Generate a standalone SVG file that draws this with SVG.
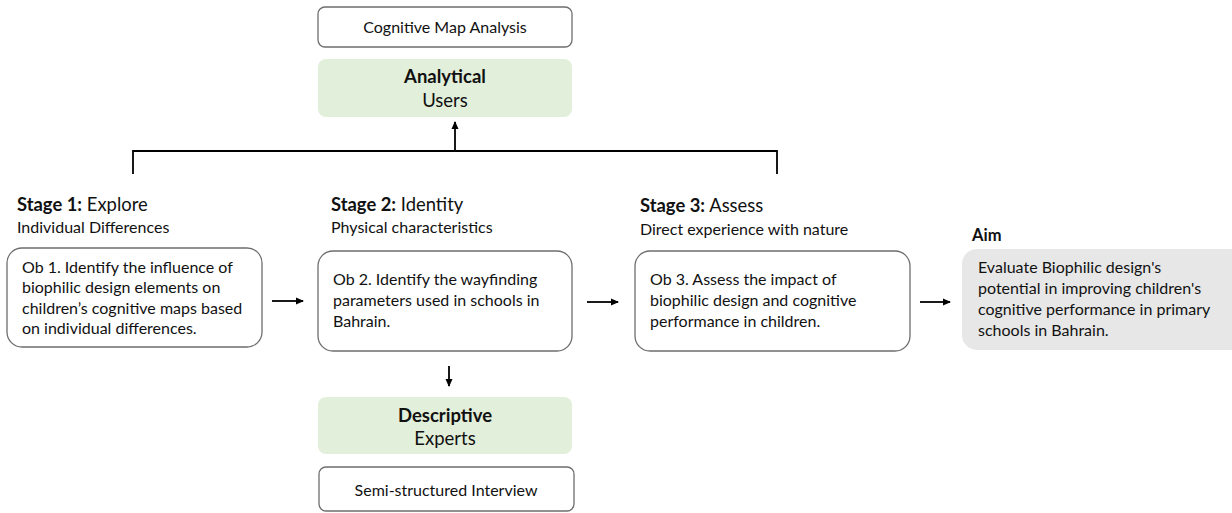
<svg xmlns="http://www.w3.org/2000/svg" width="1232" height="513" viewBox="0 0 1232 513">
<defs>
<marker id="ah" markerWidth="8" markerHeight="8" refX="7" refY="4" orient="auto" markerUnits="userSpaceOnUse">
<path d="M0,0.5 L8,4 L0,7.5 Z" fill="#000"/>
</marker>
<style>
text{font-family:Lato,"Open Sans","Liberation Sans",sans-serif;fill:#111}
.wb{fill:#fff;stroke:#6e6e6e;stroke-width:1.3}
.gb{fill:#e2efda;stroke:none}
.ab{fill:#e7e7e7;stroke:none}
.t{font-size:16px}
.h{font-size:18.4px}
.s{font-size:18.5px}
.c{font-size:16px}
.cn{stroke:#000;stroke-width:1.8;fill:none}
</style>
</defs>
<g id="cognitive-map"><rect class="wb" x="318" y="7" width="254" height="40" rx="7"/><text class="c" x="445" y="33" text-anchor="middle">Cognitive Map Analysis</text></g>
<g id="analytical"><rect class="gb" x="318" y="59" width="254" height="58" rx="8"/><text class="s" x="445" y="83" text-anchor="middle" font-weight="bold">Analytical</text><text class="s" x="445" y="107" text-anchor="middle">Users</text></g>
<g id="stage1"><text class="h" x="17" y="211"><tspan font-weight="bold">Stage 1:</tspan> Explore</text><text class="t" x="17" y="233">Individual Differences</text>
<rect class="wb" x="7" y="248" width="255" height="99" rx="15"/>
<text class="t"><tspan x="22" y="273">Ob 1. Identify the influence of</tspan><tspan x="22" y="293">biophilic design elements on</tspan><tspan x="22" y="314">children’s cognitive maps based</tspan><tspan x="22" y="334">on individual differences.</tspan></text></g>
<g id="stage2"><text class="h" x="331" y="211"><tspan font-weight="bold">Stage 2:</tspan> Identity</text><text class="t" x="331" y="233">Physical characteristics</text>
<rect class="wb" x="318" y="251" width="254" height="100" rx="15"/>
<text class="t"><tspan x="333" y="285">Ob 2. Identify the wayfinding</tspan><tspan x="333" y="306">parameters used in schools in</tspan><tspan x="333" y="327">Bahrain.</tspan></text></g>
<g id="stage3"><text class="h" x="640" y="212"><tspan font-weight="bold">Stage 3:</tspan> Assess</text><text class="t" x="640" y="235">Direct experience with nature</text>
<rect class="wb" x="635" y="251" width="275" height="100" rx="15"/>
<text class="t"><tspan x="650" y="285">Ob 3. Assess the impact of</tspan><tspan x="650" y="306">biophilic design and cognitive</tspan><tspan x="650" y="327">performance in children.</tspan></text></g>
<g id="aim"><text x="972" y="241" font-size="16.5" font-weight="bold">Aim</text>
<rect class="ab" x="962" y="249" width="285" height="101" rx="15"/>
<text class="t"><tspan x="978" y="273">Evaluate Biophilic design's</tspan><tspan x="978" y="294">potential in improving children's</tspan><tspan x="978" y="315">cognitive performance in primary</tspan><tspan x="978" y="336">schools in Bahrain.</tspan></text></g>
<g id="descriptive"><rect class="gb" x="318" y="397" width="254" height="57" rx="8"/><text class="s" x="445" y="422" text-anchor="middle" font-weight="bold">Descriptive</text><text class="s" x="445" y="445" text-anchor="middle">Experts</text></g>
<g id="interview"><rect class="wb" x="319" y="467" width="255" height="44" rx="7"/><text class="c" x="446" y="496" text-anchor="middle">Semi-structured Interview</text></g>
<g id="connectors">
<path class="cn" d="M133,174 V151 H777 V174"/>
<path class="cn" d="M455,151 V122" marker-end="url(#ah)"/>
<path class="cn" d="M272,301 H303" marker-end="url(#ah)"/>
<path class="cn" d="M587,302 H618" marker-end="url(#ah)"/>
<path class="cn" d="M920,302 H950" marker-end="url(#ah)"/>
<path class="cn" d="M449,366 V386" marker-end="url(#ah)"/>
</g>
</svg>
